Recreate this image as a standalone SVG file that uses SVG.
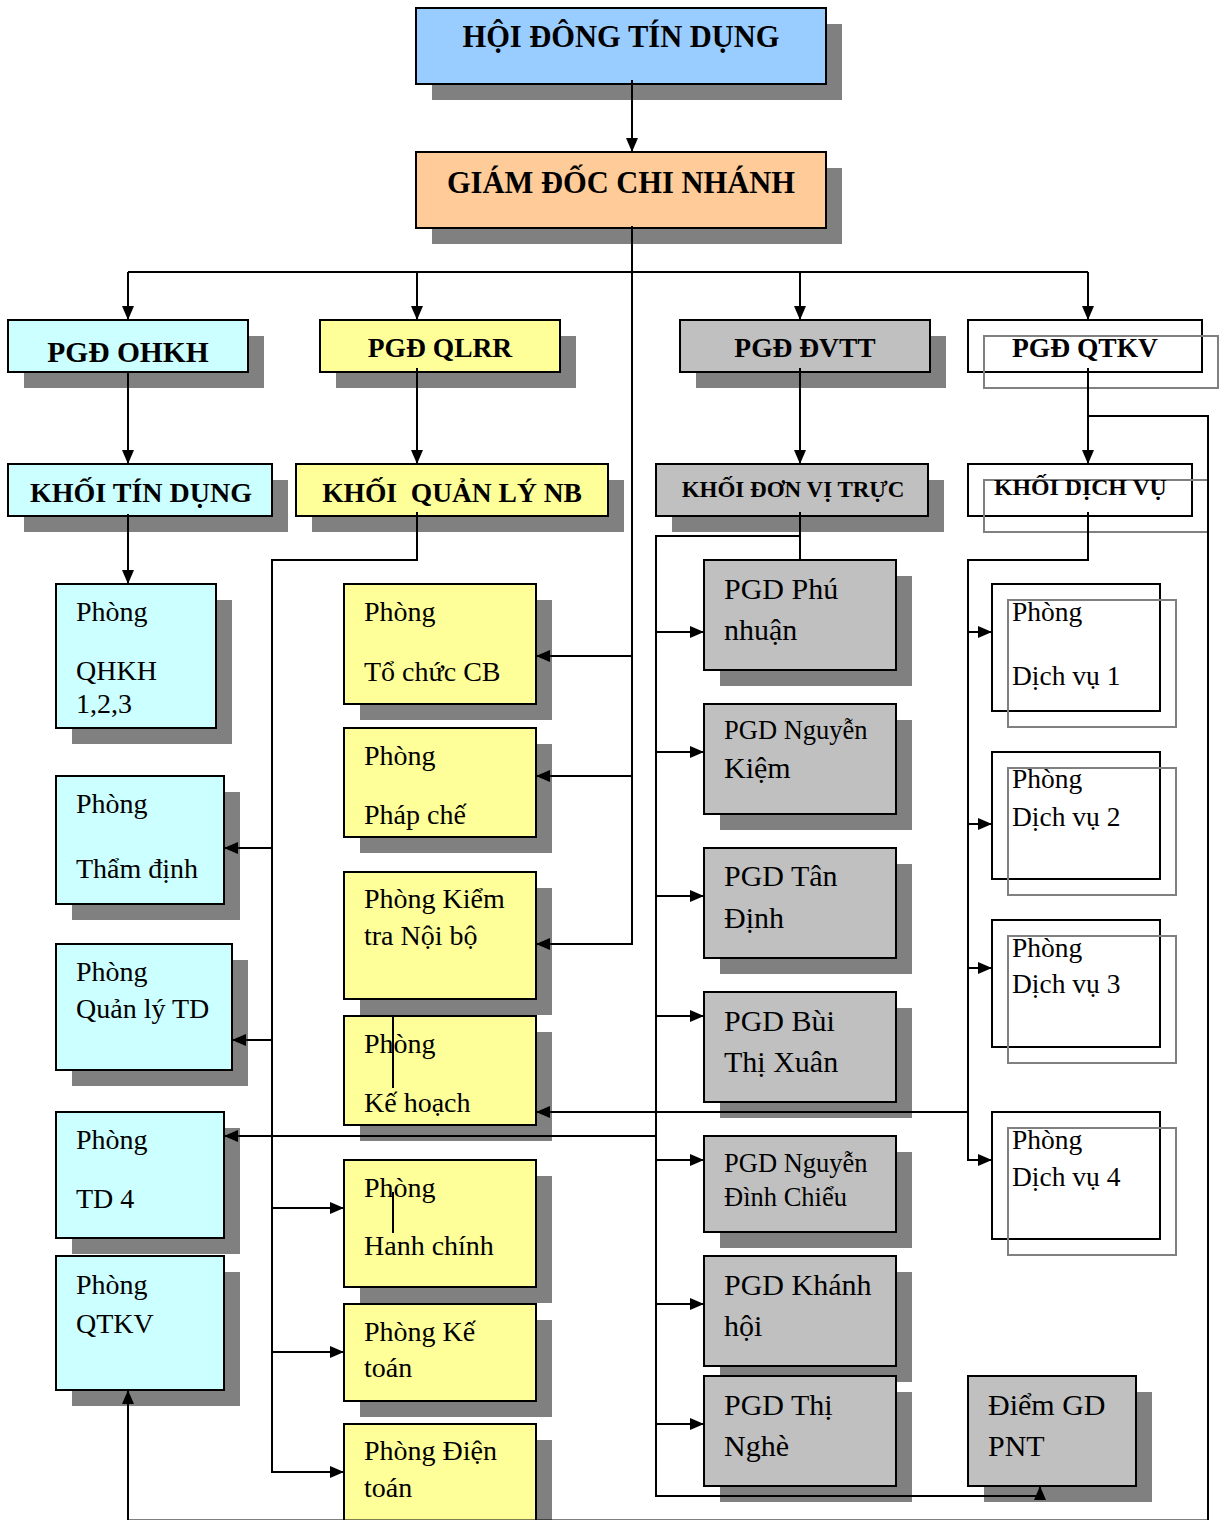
<svg xmlns="http://www.w3.org/2000/svg" width="1220" height="1520" viewBox="0 0 1220 1520">
<defs>
<style>
.sh{fill:#808080}
.bx{stroke:#000;stroke-width:2}
.cy{fill:#CCFFFF}.yl{fill:#FFFF99}.gr{fill:#C0C0C0}.bl{fill:#99CCFF}.or{fill:#FFCC99}
.ob{fill:none;stroke:#000;stroke-width:2}
.og{fill:none;stroke:#808080;stroke-width:2}
.t{font-family:"Liberation Serif","Times New Roman",serif;fill:#000;font-size:28px}
.g{font-size:30px}
.s{font-size:26.5px}
.h{font-weight:bold;text-anchor:middle}
.c{fill:none;stroke:#000;stroke-width:2}
.a{marker-end:url(#arr)}
</style>
<marker id="arr" viewBox="0 0 14 12" markerWidth="14" markerHeight="12" refX="14" refY="6" orient="auto" markerUnits="userSpaceOnUse">
<path d="M0,0 L14,6 L0,12 z" fill="#000"/>
</marker>
</defs>
<rect width="1220" height="1520" fill="#fff"/>

<g id="nodes">
<g id="n-hdtd"><rect class="sh" x="432" y="24" width="410" height="76"/><rect class="bx bl" x="416" y="8" width="410" height="76"/><text class="t h" x="621" y="47" style="font-size:30.5px">HỘI ĐÔNG TÍN DỤNG</text></g>
<g id="n-gd"><rect class="sh" x="432" y="168" width="410" height="76"/><rect class="bx or" x="416" y="152" width="410" height="76"/><text class="t h" x="621" y="193" style="font-size:30.5px">GIÁM ĐỐC CHI NHÁNH</text></g>

<g id="n-pgd-ohkh"><rect class="sh" x="24" y="336" width="240" height="52"/><rect class="bx cy" x="8" y="320" width="240" height="52"/><text class="t h" x="128" y="362" style="font-size:29.5px">PGĐ OHKH</text></g>
<g id="n-pgd-qlrr"><rect class="sh" x="336" y="336" width="240" height="52"/><rect class="bx yl" x="320" y="320" width="240" height="52"/><text class="t h" x="440" y="357" style="font-size:27.5px">PGĐ QLRR</text></g>
<g id="n-pgd-dvtt"><rect class="sh" x="696" y="336" width="250" height="52"/><rect class="bx gr" x="680" y="320" width="250" height="52"/><text class="t h" x="805" y="357" style="font-size:27.5px">PGĐ ĐVTT</text></g>
<g id="n-pgd-qtkv"><rect class="ob" x="968" y="320" width="234" height="52"/><rect class="og" x="984" y="336" width="234" height="52"/><text class="t h" x="1085" y="357" style="font-size:27.5px">PGĐ QTKV</text></g>

<g id="n-khoi-td"><rect class="sh" x="24" y="480" width="264" height="52"/><rect class="bx cy" x="8" y="464" width="264" height="52"/><text class="t h" x="141" y="502" style="font-size:28px">KHỐI TÍN DỤNG</text></g>
<g id="n-khoi-qlnb"><rect class="sh" x="312" y="480" width="312" height="52"/><rect class="bx yl" x="296" y="464" width="312" height="52"/><text class="t h" x="452" y="502" style="font-size:27.5px" xml:space="preserve">KHỐI  QUẢN LÝ NB</text></g>
<g id="n-khoi-dvt"><rect class="sh" x="672" y="480" width="272" height="52"/><rect class="bx gr" x="656" y="464" width="272" height="52"/><text class="t h" x="793" y="497" style="font-size:23px">KHỐI ĐƠN VỊ TRỰC</text></g>
<g id="n-khoi-dv"><rect class="ob" x="968" y="464" width="224" height="52"/><rect class="og" x="984" y="480" width="224" height="52"/><text class="t" x="994" y="495" style="font-size:23.8px;font-weight:bold">KHỐI DỊCH VỤ</text></g>

<g id="n-qhkh"><rect class="sh" x="72" y="600" width="160" height="144"/><rect class="bx cy" x="56" y="584" width="160" height="144"/><text class="t" x="76" y="621">Phòng</text><text class="t" x="76" y="680">QHKH</text><text class="t" x="76" y="713">1,2,3</text></g>
<g id="n-thamdinh"><rect class="sh" x="72" y="792" width="168" height="128"/><rect class="bx cy" x="56" y="776" width="168" height="128"/><text class="t" x="76" y="813">Phòng</text><text class="t" x="76" y="878">Thẩm định</text></g>
<g id="n-qltd"><rect class="sh" x="72" y="960" width="176" height="126"/><rect class="bx cy" x="56" y="944" width="176" height="126"/><text class="t" x="76" y="981">Phòng</text><text class="t" x="76" y="1018">Quản lý TD</text></g>
<g id="n-td4"><rect class="sh" x="72" y="1128" width="168" height="126"/><rect class="bx cy" x="56" y="1112" width="168" height="126"/><text class="t" x="76" y="1149">Phòng</text><text class="t" x="76" y="1208">TD 4</text></g>
<g id="n-phong-qtkv"><rect class="sh" x="72" y="1272" width="168" height="134"/><rect class="bx cy" x="56" y="1256" width="168" height="134"/><text class="t" x="76" y="1294">Phòng</text><text class="t" x="76" y="1333">QTKV</text></g>

<g id="n-tccb"><rect class="sh" x="360" y="600" width="192" height="120"/><rect class="bx yl" x="344" y="584" width="192" height="120"/><text class="t" x="364" y="621">Phòng</text><text class="t" x="364" y="681">Tổ chức CB</text></g>
<g id="n-phapche"><rect class="sh" x="360" y="744" width="192" height="109"/><rect class="bx yl" x="344" y="728" width="192" height="109"/><text class="t" x="364" y="765">Phòng</text><text class="t" x="364" y="824">Pháp chế</text></g>
<g id="n-ktnb"><rect class="sh" x="360" y="888" width="192" height="127"/><rect class="bx yl" x="344" y="872" width="192" height="127"/><text class="t" x="364" y="908">Phòng Kiểm</text><text class="t" x="364" y="945">tra Nội bộ</text></g>
<g id="n-kehoach"><rect class="sh" x="360" y="1032" width="192" height="109"/><rect class="bx yl" x="344" y="1016" width="192" height="109"/><text class="t" x="364" y="1053">Phòng</text><text class="t" x="364" y="1112">Kế hoạch</text></g>
<g id="n-hanhchinh"><rect class="sh" x="360" y="1176" width="192" height="127"/><rect class="bx yl" x="344" y="1160" width="192" height="127"/><text class="t" x="364" y="1197">Phòng</text><text class="t" x="364" y="1255">Hanh chính</text></g>
<g id="n-ketoan"><rect class="sh" x="360" y="1320" width="192" height="97"/><rect class="bx yl" x="344" y="1304" width="192" height="97"/><text class="t" x="364" y="1341">Phòng Kế</text><text class="t" x="364" y="1377">toán</text></g>
<g id="n-dientoan"><rect class="sh" x="360" y="1440" width="192" height="100"/><rect class="bx yl" x="344" y="1424" width="192" height="110"/><text class="t" x="364" y="1460">Phòng Điện</text><text class="t" x="364" y="1497">toán</text></g>

<g id="n-phunhuan"><rect class="sh" x="720" y="576" width="192" height="110"/><rect class="bx gr" x="704" y="560" width="192" height="110"/><text class="t g" x="724" y="599">PGD Phú</text><text class="t g" x="724" y="640">nhuận</text></g>
<g id="n-nguyenkiem"><rect class="sh" x="720" y="720" width="192" height="110"/><rect class="bx gr" x="704" y="704" width="192" height="110"/><text class="t s" x="724" y="739">PGD Nguyễn</text><text class="t g" x="724" y="778">Kiệm</text></g>
<g id="n-tandinh"><rect class="sh" x="720" y="864" width="192" height="110"/><rect class="bx gr" x="704" y="848" width="192" height="110"/><text class="t g" x="724" y="886">PGD Tân</text><text class="t g" x="724" y="928">Định</text></g>
<g id="n-buithixuan"><rect class="sh" x="720" y="1008" width="192" height="110"/><rect class="bx gr" x="704" y="992" width="192" height="110"/><text class="t g" x="724" y="1031">PGD Bùi</text><text class="t g" x="724" y="1072">Thị Xuân</text></g>
<g id="n-dinhchieu"><rect class="sh" x="720" y="1152" width="192" height="96"/><rect class="bx gr" x="704" y="1136" width="192" height="96"/><text class="t s" x="724" y="1172">PGD Nguyễn</text><text class="t s" x="724" y="1206">Đình Chiểu</text></g>
<g id="n-khanhhoi"><rect class="sh" x="720" y="1272" width="192" height="110"/><rect class="bx gr" x="704" y="1256" width="192" height="110"/><text class="t g" x="724" y="1295">PGD Khánh</text><text class="t g" x="724" y="1336">hội</text></g>
<g id="n-thinghe"><rect class="sh" x="720" y="1392" width="192" height="110"/><rect class="bx gr" x="704" y="1376" width="192" height="110"/><text class="t g" x="724" y="1415">PGD Thị</text><text class="t g" x="724" y="1456">Nghè</text></g>
<g id="n-pnt"><rect class="sh" x="984" y="1392" width="168" height="110"/><rect class="bx gr" x="968" y="1376" width="168" height="110"/><text class="t g" x="988" y="1415">Điểm GD</text><text class="t g" x="988" y="1456">PNT</text></g>

<g id="n-dv1"><rect class="ob" x="992" y="584" width="168" height="127"/><rect class="og" x="1008" y="600" width="168" height="127"/><text class="t" x="1012" y="621" style="font-size:27.5px">Phòng</text><text class="t" x="1012" y="685" style="font-size:27.5px">Dịch vụ 1</text></g>
<g id="n-dv2"><rect class="ob" x="992" y="752" width="168" height="127"/><rect class="og" x="1008" y="768" width="168" height="127"/><text class="t" x="1012" y="788" style="font-size:27.5px">Phòng</text><text class="t" x="1012" y="826" style="font-size:27.5px">Dịch vụ 2</text></g>
<g id="n-dv3"><rect class="ob" x="992" y="920" width="168" height="127"/><rect class="og" x="1008" y="936" width="168" height="127"/><text class="t" x="1012" y="957" style="font-size:27.5px">Phòng</text><text class="t" x="1012" y="993" style="font-size:27.5px">Dịch vụ 3</text></g>
<g id="n-dv4"><rect class="ob" x="992" y="1112" width="168" height="127"/><rect class="og" x="1008" y="1128" width="168" height="127"/><text class="t" x="1012" y="1149" style="font-size:27.5px">Phòng</text><text class="t" x="1012" y="1186" style="font-size:27.5px">Dịch vụ 4</text></g>
</g>

<g id="connectors">
<path class="c a" d="M632,80 V152"/>
<path class="c a" d="M632,226 V944 H536"/>
<path class="c a" d="M632,656 H536"/>
<path class="c a" d="M632,776 H536"/>
<path class="c" d="M128,272 H1088"/>
<path class="c a" d="M128,272 V320"/>
<path class="c a" d="M417,272 V320"/>
<path class="c a" d="M800,272 V320"/>
<path class="c a" d="M1088,272 V320"/>
<path class="c a" d="M128,372 V464"/>
<path class="c a" d="M417,368 V464"/>
<path class="c a" d="M800,368 V464"/>
<path class="c a" d="M1088,368 V464"/>
<path class="c a" d="M128,514 V584"/>
<path class="c a" d="M417,512 V560 H272 V1472 H344"/>
<path class="c a" d="M272,848 H224"/>
<path class="c a" d="M272,1040 H232"/>
<path class="c a" d="M272,1208 H344"/>
<path class="c a" d="M272,1352 H344"/>
<path class="c" d="M800,512 V560"/>
<path class="c a" d="M800,536 H656 V1496 H1040 V1486"/>
<path class="c a" d="M656,632 H704"/>
<path class="c a" d="M656,752 H704"/>
<path class="c a" d="M656,896 H704"/>
<path class="c a" d="M656,1016 H704"/>
<path class="c a" d="M656,1160 H704"/>
<path class="c a" d="M656,1304 H704"/>
<path class="c a" d="M656,1424 H704"/>
<path class="c a" d="M656,1136 H224"/>
<path class="c a" d="M1088,512 V560 H968 V1160 H992"/>
<path class="c a" d="M968,632 H992"/>
<path class="c a" d="M968,824 H992"/>
<path class="c a" d="M968,968 H992"/>
<path class="c a" d="M968,1112 H536"/>
<path class="c a" d="M1088,416 H1208 V1520.5 H128 V1390"/>
<path class="c" d="M393,1016 V1088"/>
<path class="c" d="M393,1192 V1233"/>
</g>
</svg>
